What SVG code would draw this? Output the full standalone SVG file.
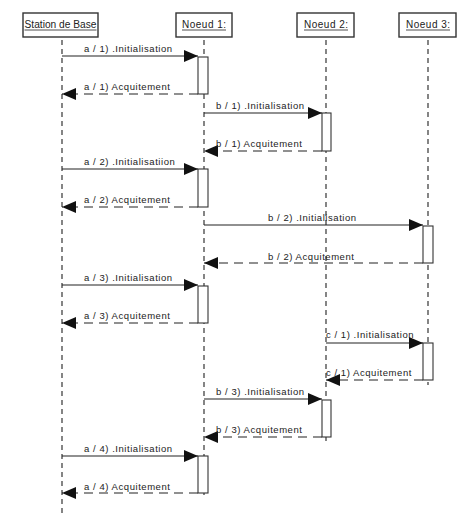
<svg xmlns="http://www.w3.org/2000/svg" width="466" height="522" viewBox="0 0 466 522">
<style>
.box{fill:#fff;stroke:#333;stroke-width:1.4}
.hdr{font-family:"Liberation Sans",Arial,sans-serif;font-size:10px;fill:#222;letter-spacing:0.5px}
.ul{stroke:#222;stroke-width:0.8}
.life{stroke:#222;stroke-width:1.1;stroke-dasharray:5,4;fill:none}
.act{fill:#fff;stroke:#333;stroke-width:1.1}
.msg{stroke:#222;stroke-width:1.1;fill:none}
.ret{stroke:#222;stroke-width:1.1;fill:none;stroke-dasharray:9,6}
.lbl{font-family:"Liberation Sans",Arial,sans-serif;font-size:9.5px;fill:#222;letter-spacing:0.55px}
</style>
<defs>
<marker id="ah" viewBox="0 0 14 12" refX="14" refY="6" markerWidth="14" markerHeight="12" markerUnits="userSpaceOnUse" orient="auto">
<path d="M0,0 L14,6 L0,12 Z" fill="#111"/>
</marker>
</defs>
<rect width="466" height="522" fill="#fff"/>
<g id="station">
<rect class="box" x="23" y="13" width="75" height="24"/>
<text class="hdr" x="24.5" y="28" textLength="72" lengthAdjust="spacingAndGlyphs" style="letter-spacing:0">Station de Base</text>
<line class="ul" x1="24.5" y1="30" x2="96.5" y2="30"/>
<line class="life" x1="62" y1="40" x2="62" y2="513"/>
</g>
<g id="noeud1">
<rect class="box" x="176" y="13" width="56" height="24"/>
<text class="hdr" x="182" y="28">Noeud 1:</text>
<line class="ul" x1="182" y1="30" x2="226" y2="30"/>
<line class="life" x1="204" y1="40" x2="204" y2="497"/>
</g>
<g id="noeud2">
<rect class="box" x="297" y="13" width="57" height="24"/>
<text class="hdr" x="304" y="28">Noeud 2:</text>
<line class="ul" x1="304" y1="30" x2="348" y2="30"/>
<line class="life" x1="326" y1="40" x2="326" y2="445"/>
</g>
<g id="noeud3">
<rect class="box" x="399" y="13" width="57" height="24"/>
<text class="hdr" x="406" y="28">Noeud 3:</text>
<line class="ul" x1="406" y1="30" x2="450" y2="30"/>
<line class="life" x1="428" y1="40" x2="428" y2="385"/>
</g>
<g id="activations">
<rect class="act" x="198" y="57" width="10" height="37"/>
<rect class="act" x="322" y="113" width="9" height="38"/>
<rect class="act" x="198" y="169" width="10" height="38"/>
<rect class="act" x="423" y="226" width="10" height="37"/>
<rect class="act" x="198" y="286" width="10" height="37"/>
<rect class="act" x="423" y="343" width="10" height="37"/>
<rect class="act" x="322" y="400" width="9" height="37"/>
<rect class="act" x="198" y="456" width="10" height="37"/>
</g>
<g id="connectors">
<line class="msg" x1="62" y1="56" x2="198" y2="56" marker-end="url(#ah)"/>
<line class="ret" x1="198" y1="94" x2="62" y2="94" marker-end="url(#ah)"/>
<line class="msg" x1="204" y1="113" x2="322" y2="113" marker-end="url(#ah)"/>
<line class="ret" x1="322" y1="151" x2="204" y2="151" marker-end="url(#ah)"/>
<line class="msg" x1="62" y1="169" x2="198" y2="169" marker-end="url(#ah)"/>
<line class="ret" x1="198" y1="207" x2="62" y2="207" marker-end="url(#ah)"/>
<line class="msg" x1="204" y1="225" x2="423" y2="225" marker-end="url(#ah)"/>
<line class="ret" x1="423" y1="263" x2="204" y2="263" marker-end="url(#ah)"/>
<line class="msg" x1="62" y1="285" x2="198" y2="285" marker-end="url(#ah)"/>
<line class="ret" x1="198" y1="323" x2="62" y2="323" marker-end="url(#ah)"/>
<line class="msg" x1="326" y1="343" x2="423" y2="343" marker-end="url(#ah)"/>
<line class="ret" x1="423" y1="380" x2="326" y2="380" marker-end="url(#ah)"/>
<line class="msg" x1="204" y1="399" x2="322" y2="399" marker-end="url(#ah)"/>
<line class="ret" x1="322" y1="437" x2="204" y2="437" marker-end="url(#ah)"/>
<line class="msg" x1="62" y1="456" x2="198" y2="456" marker-end="url(#ah)"/>
<line class="ret" x1="198" y1="493" x2="62" y2="493" marker-end="url(#ah)"/>
</g>
<g id="labels">
<text class="lbl" x="84" y="52">a / 1) .Initialisation</text>
<text class="lbl" x="84" y="90">a / 1) Acquitement</text>
<text class="lbl" x="216" y="109">b / 1) .Initialisation</text>
<text class="lbl" x="216" y="147">b / 1) Acquitement</text>
<text class="lbl" x="84" y="165">a / 2) .Initialisatiion</text>
<text class="lbl" x="84" y="203">a / 2) Acquitement</text>
<text class="lbl" x="268" y="221">b / 2) .Initialisation</text>
<text class="lbl" x="268" y="260">b / 2) Acquitement</text>
<text class="lbl" x="84" y="281">a / 3) .Initialisation</text>
<text class="lbl" x="84" y="319">a / 3) Acquitement</text>
<text class="lbl" x="326" y="338">c / 1) .Initialisation</text>
<text class="lbl" x="326" y="376">c / 1) Acquitement</text>
<text class="lbl" x="216" y="395">b / 3) .Initialisation</text>
<text class="lbl" x="216" y="433">b / 3) Acquitement</text>
<text class="lbl" x="84" y="452">a / 4) .Initialisation</text>
<text class="lbl" x="84" y="490">a / 4) Acquitement</text>
</g>
</svg>
